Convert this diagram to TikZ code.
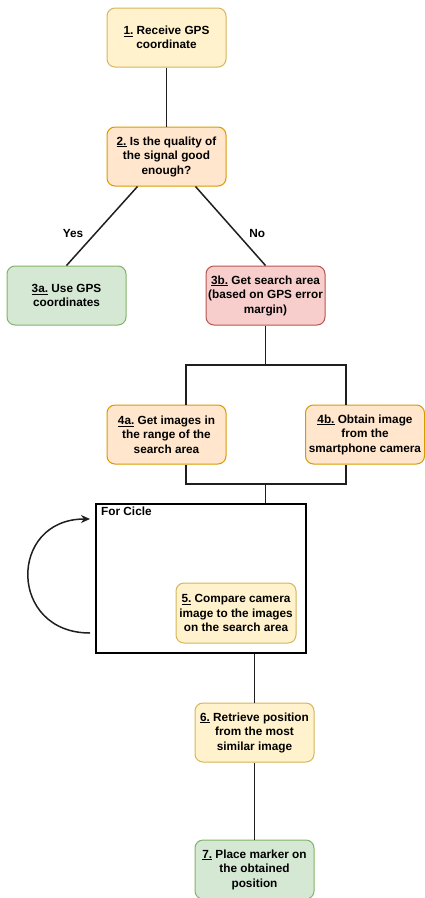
\documentclass[tikz,border=0pt]{standalone}
\usepackage{fontspec}
\setmainfont{Liberation Sans}
\usetikzlibrary{arrows.meta}
\definecolor{ylwF}{HTML}{FFF2CC}\definecolor{ylwD}{HTML}{D6B656}
\definecolor{orgF}{HTML}{FFE6CC}\definecolor{orgD}{HTML}{D79B00}
\definecolor{grnF}{HTML}{D5E8D4}\definecolor{grnD}{HTML}{82B366}
\definecolor{redF}{HTML}{F8CECC}\definecolor{redD}{HTML}{B85450}
\begin{document}
\begin{tikzpicture}[x=1pt,y=-1pt,
  proc/.style={rounded corners=8pt, line width=1pt, minimum width=119pt, minimum height=59pt,
    inner sep=1pt, align=center, font=\fontsize{11.8}{14.5}\selectfont\bfseries},
  yel/.style={proc, fill=ylwF, draw=ylwD},
  org/.style={proc, fill=orgF, draw=orgD},
  grn/.style={proc, fill=grnF, draw=grnD},
  rdd/.style={proc, fill=redF, draw=redD},
  conn/.style={line width=1.5pt, draw=black!88},
  lbl/.style={font=\fontsize{11.8}{13}\selectfont\bfseries, inner sep=1pt}]
\useasboundingbox (0,0) rectangle (425,898);
\node[yel] (n1) at (166.5,37.5) {\underline{1.} Receive GPS\\coordinate};
\node[org] (n2) at (166.5,156.5) {\underline{2.} Is the quality of\\the signal good\\enough?};
\node[grn] (n3a) at (66.5,295.5) {\underline{3a.} Use GPS\\coordinates};
\node[rdd] (n3b) at (265.5,295.5) {\underline{3b.} Get search area\\(based on GPS error\\margin)};
\node[org] (n4a) at (166.5,434.5) {\underline{4a.} Get images in\\the range of the\\search area};
\node[org] (n4b) at (365,434.5) {\underline{4b.} Obtain image\\from the\\smartphone camera};
\node[draw=black, line width=1.5pt, minimum width=210pt, minimum height=149pt, inner sep=0pt] (loop) at (201,578.5) {};
\node[lbl, anchor=north west] (fc) at (100,506) {For Cicle};
\node[yel, minimum width=120pt, minimum height=60pt] (n5) at (236,613) {\underline{5.} Compare camera\\image to the images\\on the search area};
\node[yel] (n6) at (254.5,732.5) {\underline{6.} Retrieve position\\from the most\\similar image};
\node[grn] (n7) at (254.5,869.5) {\underline{7.} Place marker on\\the obtained\\position};
\coordinate (ta) at (186,365);
\coordinate (tb) at (346,365);
\coordinate (ba) at (186,484);
\coordinate (bb) at (346,484);
\coordinate (lp1) at (90,633);
\coordinate (lp2) at (90,519);
\draw[conn] (n1) -- (n2);
\draw[conn] ([xshift=-29pt]n2.south) -- node[lbl, pos=0.6, left=10pt] (yes) {Yes} (n3a.north);
\draw[conn] ([xshift=29pt]n2.south) -- node[lbl, pos=0.6, right=10pt] (no) {No} (n3b.north);
\draw[conn] (n3b.south) -- (n3b.south |- ta);
\draw[conn] (n4a.north -| ta) -- (ta) -- (tb) -- (n4b.north -| tb);
\draw[conn] (n4a.south -| ba) -- (ba) -- (bb) -- (n4b.south -| bb);
\draw[conn] (n3b.south |- ba) -- (n3b.south |- loop.north);
\draw[conn, -{Stealth[length=9pt,width=8pt]}] (lp1) .. controls (8,633) and (8,519) .. (lp2);
\draw[conn] (n6.north |- loop.south) -- (n6.north);
\draw[conn] (n6) -- (n7);
\end{tikzpicture}
\end{document}
